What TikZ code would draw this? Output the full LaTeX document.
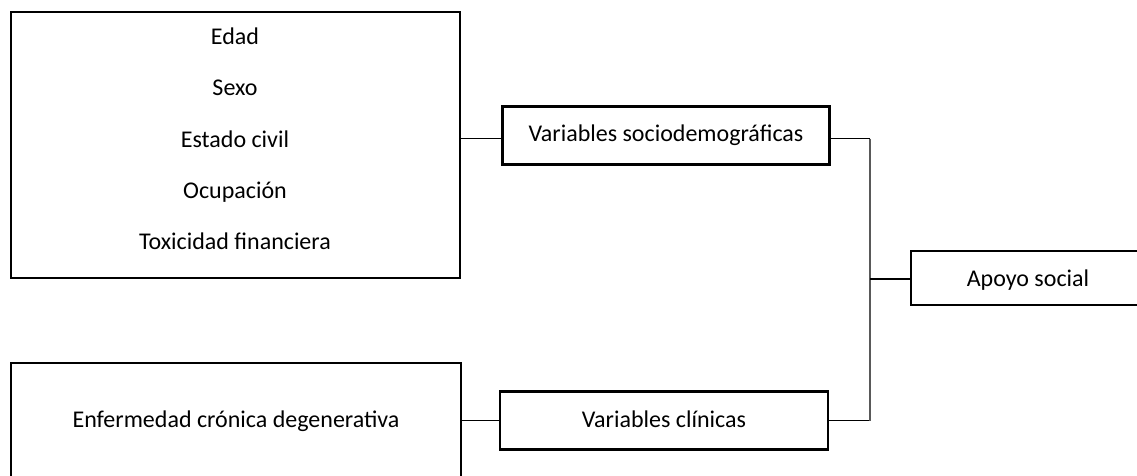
\documentclass[tikz,border=0pt]{standalone}
\usepackage{fontspec}
\setmainfont{Carlito}
\begin{document}
\begin{tikzpicture}[x=1pt,y=-1pt,
  box/.style={draw=black, line width=2.4pt, inner sep=0pt, outer sep=0pt},
  lbl/.style={font=\fontsize{24}{28}\selectfont, text=black, inner sep=0pt, anchor=base},
  conn/.style={draw=black, line width=1.1pt},
  vconn/.style={draw=black!65, line width=1.5pt}]
\useasboundingbox (0,0) rectangle (1137,476);
\clip (0,0) rectangle (1137,476);
% boxes
\node[box, minimum width=449pt, minimum height=266pt] (big) at (235.5,145) {};
\node[box, minimum width=450pt, minimum height=130pt] (bot) at (236,428) {};
\node[box, minimum width=327pt, minimum height=58pt] (socio) at (666,135.5) {};
\node[box, minimum width=328pt, minimum height=58pt] (clin) at (664,420.5) {};
\node[box, minimum width=234pt, minimum height=54pt] (apoyo) at (1028,278) {};
% texts
\node[lbl] (t1) at (235,45) {Edad};
\node[lbl] (t2) at (235,96) {Sexo};
\node[lbl] (t3) at (235,147) {Estado civil};
\node[lbl] (t4) at (235,198) {Ocupación};
\node[lbl] (t5) at (235,249) {Toxicidad financiera};
\node[lbl] (t6) at (236,427) {Enfermedad crónica degenerativa};
\node[lbl] (t7) at (666,141.5) {Variables sociodemográficas};
\node[lbl] (t8) at (664,427) {Variables clínicas};
\node[lbl] (t9) at (1028,286) {Apoyo social};
% connectors
\coordinate (jx) at (870,0);
\draw[conn] ([yshift=-3pt]socio.west -| big.east) -- ([yshift=-3pt]socio.west);
\draw[conn] (clin.west -| bot.east) -- (clin.west);
\draw[conn] ([yshift=-3pt]socio.east) -- ([yshift=-3pt]socio.east -| jx) coordinate (jtop);
\draw[conn] (clin.east) -- (clin.east -| jx) coordinate (jbot);
\draw[vconn] (jtop) -- (jbot);
\draw[conn] ([yshift=-1pt]apoyo.west -| jx) -- ([yshift=-1pt]apoyo.west);
\end{tikzpicture}
\end{document}
